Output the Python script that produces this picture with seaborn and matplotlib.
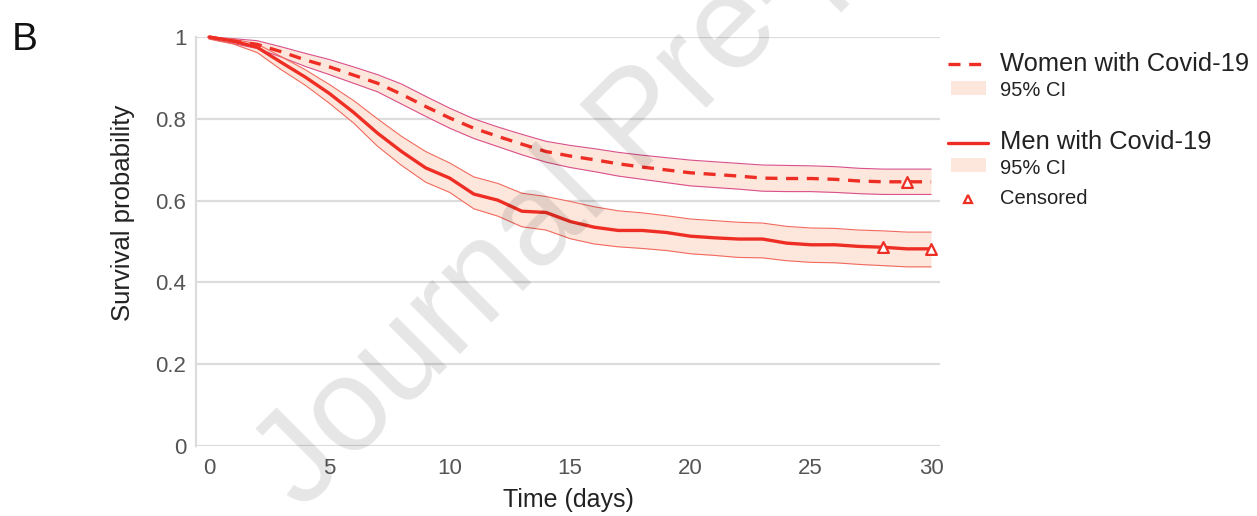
import numpy as np
import pandas as pd
import seaborn as sns
import matplotlib
matplotlib.use("Agg")
import matplotlib.pyplot as plt
from matplotlib.lines import Line2D
from matplotlib.patches import Rectangle

# Kaplan-Meier estimates (days 0..30)
days = list(range(31))

women_surv = [1.0, 0.99, 0.982, 0.964, 0.944, 0.927, 0.907, 0.887, 0.86, 0.83, 0.802,
              0.777, 0.757, 0.738, 0.72, 0.709, 0.70, 0.69, 0.682, 0.675, 0.668,
              0.664, 0.66, 0.655, 0.654, 0.654, 0.652, 0.648, 0.646, 0.646, 0.646]
women_upper = [1.0, 0.996, 0.991, 0.976, 0.96, 0.945, 0.927, 0.908, 0.885, 0.855, 0.826,
               0.80, 0.78, 0.762, 0.745, 0.735, 0.727, 0.718, 0.711, 0.705, 0.699,
               0.695, 0.691, 0.687, 0.686, 0.685, 0.683, 0.679, 0.677, 0.677, 0.677]
women_lower = [0.996, 0.984, 0.972, 0.951, 0.928, 0.908, 0.887, 0.866, 0.836, 0.806, 0.777,
               0.752, 0.732, 0.712, 0.694, 0.681, 0.671, 0.66, 0.652, 0.644, 0.636,
               0.632, 0.628, 0.623, 0.622, 0.622, 0.62, 0.617, 0.615, 0.615, 0.615]

men_surv = [1.0, 0.99, 0.975, 0.938, 0.902, 0.862, 0.816, 0.765, 0.72, 0.68, 0.655,
            0.616, 0.601, 0.574, 0.571, 0.549, 0.535, 0.527, 0.527, 0.522, 0.513,
            0.509, 0.506, 0.506, 0.496, 0.492, 0.492, 0.488, 0.486, 0.482, 0.482]
men_upper = [1.0, 0.995, 0.983, 0.952, 0.92, 0.884, 0.845, 0.80, 0.757, 0.72, 0.692,
             0.658, 0.642, 0.618, 0.61, 0.598, 0.585, 0.575, 0.57, 0.563, 0.555,
             0.551, 0.547, 0.545, 0.537, 0.533, 0.532, 0.528, 0.526, 0.523, 0.523]
men_lower = [0.995, 0.983, 0.962, 0.92, 0.882, 0.838, 0.79, 0.733, 0.686, 0.645, 0.62,
             0.58, 0.562, 0.536, 0.528, 0.507, 0.494, 0.487, 0.483, 0.478, 0.47,
             0.466, 0.461, 0.46, 0.453, 0.449, 0.448, 0.444, 0.441, 0.438, 0.438]

# censored observations
cens_women_t = [29]
cens_women_s = [0.646]
cens_men_t = [28, 30]
cens_men_s = [0.486, 0.482]

yticks = [0, 0.2, 0.4, 0.6, 0.8, 1]
ytick_labels = ["0", "0.2", "0.4", "0.6", "0.8", "1"]
xticks = [0, 5, 10, 15, 20, 25, 30]

RED = "#ee2e24"
FILL = "#fde6dc"
GRID = "#dcdcdc"

sns.set_theme(style="white")
plt.rcParams["font.family"] = ["Liberation Sans", "DejaVu Sans"]

df = pd.DataFrame({
    "day": days * 2,
    "surv": women_surv + men_surv,
    "group": ["Women"] * 31 + ["Men"] * 31,
})

fig = plt.figure(figsize=(12.57, 5.16), dpi=100)
ax = fig.add_axes([196 / 1257, 1 - 446 / 516, 744 / 1257, 409 / 516])

# confidence bands
ax.fill_between(days, women_lower, women_upper, color=FILL, lw=0, zorder=1)
ax.fill_between(days, men_lower, men_upper, color=FILL, lw=0, zorder=1)
ax.plot(days, women_upper, color="#d9508a", lw=0.8, zorder=2)
ax.plot(days, women_lower, color="#d9508a", lw=0.8, zorder=2)
ax.plot(days, men_upper, color="#f26a5e", lw=0.8, zorder=2)
ax.plot(days, men_lower, color="#f26a5e", lw=0.8, zorder=2)

sns.lineplot(data=df, x="day", y="surv", style="group",
             dashes={"Women": (3.6, 2.6), "Men": ""},
             color=RED, lw=2.4, legend=False, ax=ax, zorder=3)

sns.scatterplot(x=cens_women_t + cens_men_t, y=cens_women_s + cens_men_s, marker="^",
                s=60, facecolor="white", edgecolor=RED, linewidth=1.6,
                ax=ax, zorder=4, clip_on=False)

ax.set_xlim(-0.54, 30.37)
ax.set_ylim(0, 1)
ax.set_xticks(xticks)
ax.set_yticks(yticks)
ax.set_yticklabels(ytick_labels)
ax.tick_params(axis="both", length=0, labelsize=16, labelcolor="#555555")
ax.tick_params(axis="x", pad=9)
ax.tick_params(axis="y", pad=7)
for lab in ax.get_lines():
    lab.set_clip_on(False)

ax.grid(axis="y", color=GRID, lw=1.6)
ax.set_axisbelow(True)
for side in ["top", "right", "bottom"]:
    ax.spines[side].set_visible(False)
ax.spines["left"].set_color(GRID)
ax.spines["left"].set_linewidth(1.6)

ax.set_xlabel("Time (days)", fontsize=18, color="#222222", labelpad=6)
ax.set_ylabel("Survival probability", fontsize=18.5, color="#222222")
ax.yaxis.set_label_coords(-0.082, 0.57)

fig.text(12 / 1257, 1 - 50 / 516, "B", fontsize=28, color="#111111")

# legend drawn in figure pixels
def px(x, y):
    return x / 1257, 1 - y / 516

fig.add_artist(Line2D([px(948, 0)[0], px(988, 0)[0]], [px(0, 64)[1]] * 2,
                      color=RED, lw=2.4, dashes=(3.6, 2.6)))
fig.add_artist(Line2D([px(948, 0)[0], px(988, 0)[0]], [px(0, 143)[1]] * 2,
                      color=RED, lw=2.4))
for ytop in [81, 158]:
    x0, y0 = px(951, ytop + 14)
    fig.add_artist(Rectangle((x0, y0), 35 / 1257, 14 / 516, color=FILL, lw=0))
fig.add_artist(Line2D([px(968, 0)[0]], [px(0, 199)[1]], marker="^", ms=6,
                      mfc="white", mec=RED, mew=1.6, ls=""))

for (y, txt, fs) in [(64, "Women with Covid-19", 18.4), (90, "95% CI", 14.5),
                     (142, "Men with Covid-19", 18.4), (168, "95% CI", 14.5),
                     (199, "Censored", 14.5)]:
    x, yy = px(1000, y)
    fig.text(x, yy, txt, fontsize=fs, color="#222222", va="center", ha="left")

# watermark
wx, wy = px(302, 512)
fig.text(wx, wy, "Journal Pre-proof", fontsize=96, color="black", alpha=0.1,
         rotation=45, rotation_mode="anchor", ha="left", va="baseline", zorder=10)

fig.savefig("out.png", dpi=100)
